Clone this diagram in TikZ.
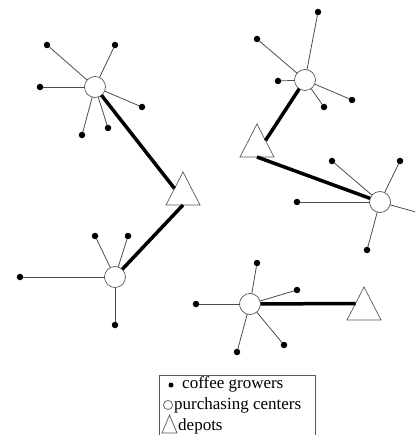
\documentclass[tikz,border=0pt]{standalone}
\usepackage{fontspec}
\setmainfont{Liberation Serif}
\usetikzlibrary{shapes.geometric}
\begin{document}
\begin{tikzpicture}[x=1pt,y=-1pt,
  grower/.style={circle, fill=black, inner sep=0pt, outer sep=0pt, minimum size=6.5pt},
  center/.style={circle, draw=black!65, fill=white, line width=0.7pt, minimum size=21pt, inner sep=0pt, outer sep=0pt},
  depot/.style={isosceles triangle, shape border rotate=90, isosceles triangle stretches,
    minimum width=34pt, minimum height=33pt, draw=black!65, fill=white, line width=0.7pt,
    inner sep=0pt, outer sep=0pt, anchor=apex},
  link/.style={draw=black!70, line width=0.8pt},
  trunk/.style={draw=black, line width=3.5pt},
  legtext/.style={anchor=base west, inner sep=0pt, font=\fontsize{17}{20}\selectfont}]
\clip (0,0) rectangle (415,435);
% cluster 1
\node[center] (c1) at (95,87) {};
\node[grower] (g11) at (47,45) {};
\node[grower] (g12) at (115,45) {};
\node[grower] (g13) at (40,87) {};
\node[grower] (g14) at (142,107) {};
\node[grower] (g15) at (108,128) {};
\node[grower] (g16) at (82,135) {};
% cluster 2
\node[center] (c2) at (115,277) {};
\node[grower] (g21) at (95,236) {};
\node[grower] (g22) at (128,236) {};
\node[grower] (g23) at (20,277) {};
\node[grower] (g24) at (115,325) {};
% cluster 3
\node[center] (c3) at (305,80) {};
\node[grower] (g31) at (318,12) {};
\node[grower] (g32) at (257,39) {};
\node[grower] (g33) at (278,81) {};
\node[grower] (g34) at (352,100) {};
\node[grower] (g35) at (324,107) {};
% cluster 4
\node[center] (c4) at (380,202) {};
\node[grower] (g41) at (332,161) {};
\node[grower] (g42) at (400,161) {};
\node[grower] (g43) at (297,202) {};
\node[grower] (g44) at (367,250) {};
\coordinate (g45) at (430,216);
% cluster 5
\node[center] (c5) at (250,304) {};
\node[grower] (g51) at (257,263) {};
\node[grower] (g52) at (297,290) {};
\node[grower] (g53) at (196,304) {};
\node[grower] (g54) at (237,352) {};
\node[grower] (g55) at (284,345) {};
% depots
\node[depot] (d1) at (183,172) {};
\node[depot] (d2) at (257,124) {};
\node[depot] (d3) at (364,287) {};
% thin links
\foreach \c/\g in {c1/g11,c1/g12,c1/g13,c1/g14,c1/g15,c1/g16,
                   c2/g21,c2/g22,c2/g23,c2/g24,
                   c3/g31,c3/g32,c3/g33,c3/g34,c3/g35,
                   c4/g41,c4/g42,c4/g43,c4/g44,c4/g45,
                   c5/g51,c5/g52,c5/g53,c5/g54,c5/g55}
  \path[link] (\c) -- (\g);
% trunks
\path[trunk] (c1) -- (d1.left side);
\path[trunk] (d1.lower side) -- (c2);
\path[trunk] (c3) -- (d2.right side);
\path[trunk] (d2.lower side) -- (c4);
\path[trunk] (c5) -- (d3.left side);
% legend
\draw[draw=black!65, line width=0.7pt] (159,375) rectangle (315,445);
\node[grower, minimum size=5pt] (lg) at (171,385) {};
\node[center, minimum size=9pt] (lc) at (168,405) {};
\node[depot, minimum width=15pt, minimum height=18pt] (ld) at (169.5,415) {};
\node[legtext] (t1) at (182,388) {coffee growers};
\node[legtext] (t2) at (174,409) {purchasing centers};
\node[legtext] (t3) at (178,430) {depots};
\end{tikzpicture}
\end{document}
